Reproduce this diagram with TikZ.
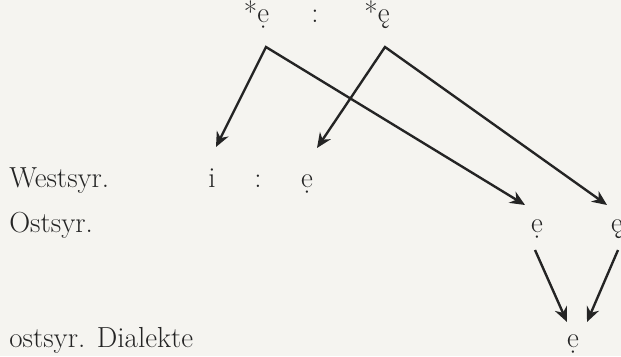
\documentclass[tikz,border=0pt]{standalone}
\usepackage{xcolor}
\usepackage{tikz}
\usetikzlibrary{arrows.meta, positioning, calc}
\definecolor{mypaper}{RGB}{245,244,240}
\definecolor{myink}{RGB}{36,36,36}
\tikzset{
  form/.style={anchor=base, inner sep=0pt, text=myink,
    font=\fontsize{16.5}{19}\selectfont},
  label/.style={anchor=base west, inner sep=0pt, text=myink,
    font=\fontsize{16.5}{19}\selectfont},
  arrow/.style={-{Stealth[length=8.5pt, width=7.4pt]}, line width=1.35pt, color=myink},
  arrowboth/.style={{Stealth[length=8.5pt, width=7.4pt]}-{Stealth[length=8.5pt, width=7.4pt]},
    line width=1.35pt, color=myink, line join=miter}
}

\begin{document}
\begin{tikzpicture}[scale=1.0]
  % paper and frame
  \fill[mypaper] (0,0) rectangle (12.42,7.12);
  \useasboundingbox (0,0) rectangle (12.42,7.12);

  % reconstructed forms
  \node[form] (protoA) at (5.13, 6.68) {*\d{e}};
  \node[form] (protoSep) at (6.30, 6.68) {:};
  \node[form] (protoB) at (7.54, 6.68) {*\k{e}};
  \coordinate (apexA) at (5.32, 6.18);
  \coordinate (apexB) at (7.70, 6.18);

  % Westsyr. row
  \node[label] (westLbl) at (0.18, 3.38) {Westsyr.};
  \node[form] (westI) at (4.24, 3.38) {i};
  \node[form] (westSep) at (5.16, 3.38) {:};
  \node[form] (westE) at (6.14, 3.38) {\d{e}};

  % Ostsyr. row
  \node[label] (eastLbl) at (0.18, 2.48) {Ostsyr.};
  \node[form] (eastE) at (10.74, 2.48) {\d{e}};
  \node[form] (eastEk) at (12.34, 2.48) {\k{e}};

  % dialects row
  \node[label] (dialLbl) at (0.18, 0.18) {ostsyr. Dialekte};
  \node[form] (dialE) at (11.46, 0.18) {\d{e}};

  % arrow ends
  \coordinate (tipWestI) at (4.32, 4.18);
  \coordinate (tipWestE) at (6.34, 4.16);
  \coordinate (tipEastE) at (10.50, 3.02);
  \coordinate (tipEastEk) at (12.14, 3.02);
  \coordinate (startEastE) at (10.70, 2.12);
  \coordinate (startEastEk) at (12.36, 2.12);
  \coordinate (tipDialA) at (11.34, 0.68);
  \coordinate (tipDialB) at (11.74, 0.68);

  % branches
  \draw[arrowboth] (tipWestI) -- (apexA) -- (tipEastE);
  \draw[arrowboth] (tipWestE) -- (apexB) -- (tipEastEk);
  \draw[arrow] (startEastE) -- (tipDialA);
  \draw[arrow] (startEastEk) -- (tipDialB);
\end{tikzpicture}
\end{document}
